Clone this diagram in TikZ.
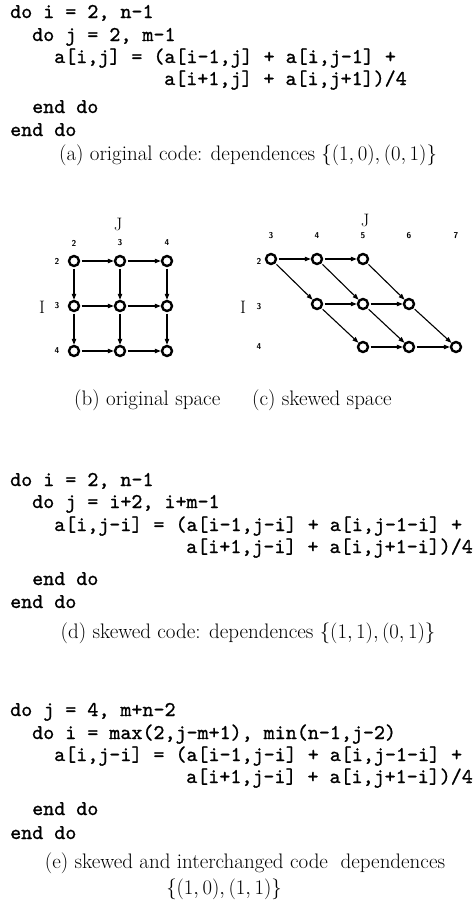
\documentclass[tikz,border=0pt]{standalone}
\usepackage{fontspec}
\setmonofont{lmmono10-regular.otf}[FakeBold=1.0]
\usetikzlibrary{arrows.meta}
\tikzset{
  codeline/.style={anchor=base west, inner sep=0pt, font={\fontsize{21}{25}\selectfont\ttfamily}},
  capline/.style={anchor=base, inner sep=0pt, font={\fontsize{21}{25}\selectfont}},
  pt/.style={circle, draw, line width=2.4pt, minimum size=10pt, inner sep=0pt},
  arr/.style={-{Triangle[length=6pt,width=4.4pt]}, line width=1.1pt, shorten <=1.5pt},
  idx/.style={inner sep=0pt, font={\fontsize{8.5}{9}\selectfont\sffamily\bfseries}},
  axl/.style={inner sep=0pt, font={\fontsize{18}{19}\selectfont}}
}
\begin{document}
\begin{tikzpicture}[x=1pt,y=-1pt]
\useasboundingbox (0,0) rectangle (475,905);
% ---------- (a) original code
\node[codeline] (a1) at (10,18)  {do i = 2, n-1};
\node[codeline] (a2) at (32,41)  {do j = 2, m-1};
\node[codeline] (a3) at (54,63)  {a[i,j] = (a[i-1,j] + a[i,j-1] +};
\node[codeline] (a4) at (164,85) {a[i+1,j] + a[i,j+1])/4};
\node[codeline] (a5) at (32,113) {end do};
\node[codeline] (a6) at (10,136) {end do};
\node[capline] (ca) at (248,160) {(a) original code: dependences $\{(1,0),(0,1)\}$};
% ---------- (b) original space
\node[axl] (bJ) at (118,224) {J};
\node[axl] (bI) at (42,307) {I};
\foreach \c/\x in {2/74,3/120,4/167}{
  \node[idx] (bc\c) at (\x,243) {\c};
}
\foreach \r/\y in {2/261,3/306,4/351}{
  \node[idx] (br\r) at (57,\y) {\r};
  \foreach \c/\x in {2/74,3/120,4/167}{
    \node[pt] (b\r\c) at (\x,\y) {};
  }
}
\foreach \r in {2,3,4}{
  \draw[arr] (b\r2) -- (b\r3);
  \draw[arr] (b\r3) -- (b\r4);
}
\foreach \c in {2,3,4}{
  \draw[arr] (b2\c) -- (b3\c);
  \draw[arr] (b3\c) -- (b4\c);
}
% ---------- (c) skewed space
\node[axl] (cJ) at (365,220) {J};
\node[axl] (cI) at (243,307) {I};
\foreach \c/\x in {3/271,4/317,5/363,6/409,7/456}{
  \node[idx] (cc\c) at (\x,236) {\c};
}
\node[idx] (cr2) at (259,261) {2};
\node[idx] (cr3) at (259,307) {3};
\node[idx] (cr4) at (259,347) {4};
\node[pt] (c23) at (271,259) {};
\node[pt] (c24) at (317,259) {};
\node[pt] (c25) at (363,259) {};
\node[pt] (c34) at (317,304) {};
\node[pt] (c35) at (363,304) {};
\node[pt] (c36) at (409,304) {};
\node[pt] (c45) at (363,347) {};
\node[pt] (c46) at (409,347) {};
\node[pt] (c47) at (456,347) {};
\draw[arr] (c23) -- (c24);
\draw[arr] (c24) -- (c25);
\draw[arr] (c34) -- (c35);
\draw[arr] (c35) -- (c36);
\draw[arr] (c45) -- (c46);
\draw[arr] (c46) -- (c47);
\draw[arr] (c23) -- (c34);
\draw[arr] (c24) -- (c35);
\draw[arr] (c25) -- (c36);
\draw[arr] (c34) -- (c45);
\draw[arr] (c35) -- (c46);
\draw[arr] (c36) -- (c47);
% ---------- captions (b), (c)
\node[capline, anchor=base west] (cb) at (74,405) {(b) original space};
\node[capline, anchor=base west] (cc) at (252,405) {(c) skewed space};
% ---------- (d) skewed code
\node[codeline] (d1) at (10,486)  {do i = 2, n-1};
\node[codeline] (d2) at (32,508)  {do j = i+2, i+m-1};
\node[codeline] (d3) at (54,531)  {a[i,j-i] = (a[i-1,j-i] + a[i,j-1-i] +};
\node[codeline] (d4) at (186,553) {a[i+1,j-i] + a[i,j+1-i])/4};
\node[codeline] (d5) at (32,585)  {end do};
\node[codeline] (d6) at (10,608)  {end do};
\node[capline] (cd) at (248,638) {(d) skewed code: dependences $\{(1,1),(0,1)\}$};
% ---------- (e) skewed and interchanged code
\node[codeline] (e1) at (10,716)  {do j = 4, m+n-2};
\node[codeline] (e2) at (32,739)  {do i = max(2,j-m+1), min(n-1,j-2)};
\node[codeline] (e3) at (54,761)  {a[i,j-i] = (a[i-1,j-i] + a[i,j-1-i] +};
\node[codeline] (e4) at (186,783) {a[i+1,j-i] + a[i,j+1-i])/4};
\node[codeline] (e5) at (32,815)  {end do};
\node[codeline] (e6) at (10,839)  {end do};
\node[capline] (ce1) at (245,868) {(e) skewed and interchanged code\ \ dependences};
\node[capline] (ce2) at (224,894) {$\{(1,0),(1,1)\}$};
\end{tikzpicture}
\end{document}
